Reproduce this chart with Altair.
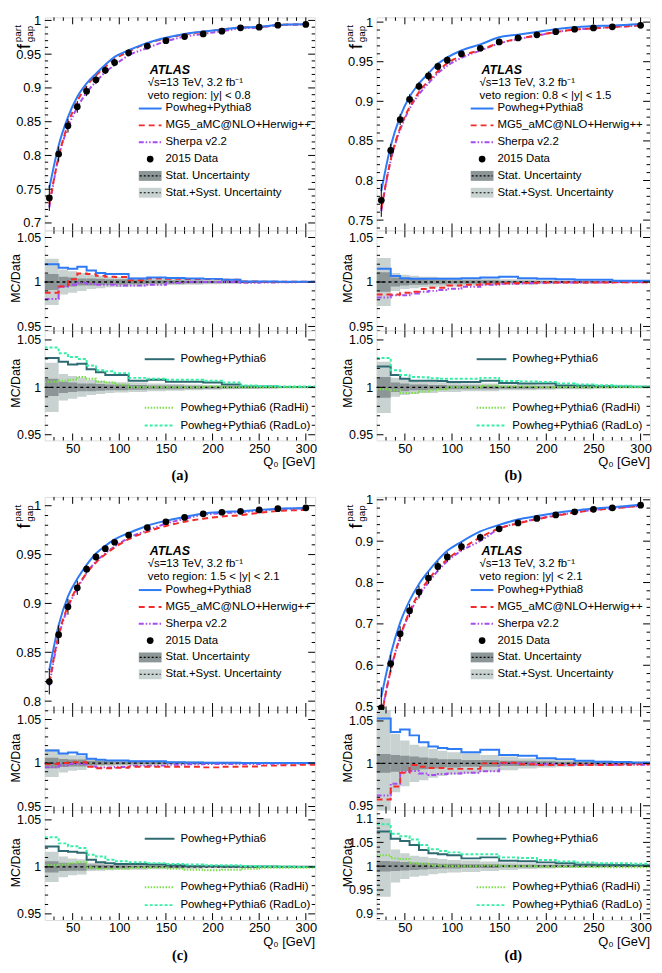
import altair as alt
import pandas as pd

FONT = "Liberation Sans"
SERIF = "Liberation Serif"

# ---------------- data ----------------
Q0 = [25, 35, 45, 55, 65, 75, 85, 95, 110, 130, 150, 170, 190, 210, 230, 250, 270, 300]
EDGES = [20, 35, 45, 55, 65, 75, 85, 95, 110, 130, 150, 170, 190, 210, 230, 250, 270, 290, 310]
X_MAJOR = [50, 100, 150, 200, 250, 300]
X_MINOR = [30, 40, 60, 70, 80, 90, 110, 120, 130, 140, 160, 170, 180, 190,
           210, 220, 230, 240, 260, 270, 280, 290]

# (a) |y| < 0.8
A_DATA = [0.737, 0.802, 0.844, 0.872, 0.895, 0.912, 0.926, 0.9375, 0.952, 0.962, 0.970, 0.976, 0.980, 0.984, 0.989, 0.990, 0.993, 0.994]
A_PP8 = [1.020, 1.016, 1.015, 1.017, 1.013, 1.010, 1.009, 1.009, 1.004, 1.005, 1.0045, 1.004, 1.0035, 1.0025, 1.0005, 1.0005, 1.0003, 1.0002]
A_MG5 = [0.988, 0.995, 1.003, 1.0095, 1.009, 1.007, 1.006, 1.0055, 1.002, 1.004, 1.0037, 1.0033, 1.0033, 1.0025, 1.0005, 1.0003, 1.0002, 1.0002]
A_SHERPA = [0.981, 0.995, 0.997, 0.999, 0.998, 0.997, 0.997, 0.996, 0.996, 0.997, 0.999, 1.000, 1.000, 1.000, 0.999, 0.9995, 0.9998, 1.000]
A_PP6 = [1.031, 1.027, 1.024, 1.025, 1.019, 1.016, 1.013, 1.013, 1.007, 1.008, 1.006, 1.006, 1.005, 1.003, 1.001, 1.0008, 1.0005, 1.0003]
A_RADHI = [1.006, 1.007, 1.008, 1.011, 1.009, 1.006, 1.005, 1.003, 1.000, 1.000, 1.000, 1.000, 1.001, 1.000, 1.000, 1.000, 1.000, 1.000]
A_RADLO = [1.042, 1.036, 1.032, 1.030, 1.023, 1.018, 1.017, 1.015, 1.010, 1.009, 1.008, 1.008, 1.007, 1.005, 1.002, 1.0015, 1.001, 1.001]
A_STAT = [0.009, 0.006, 0.005, 0.004, 0.004, 0.0035, 0.003, 0.003, 0.0025, 0.002, 0.002, 0.0018, 0.0015, 0.0013, 0.0012, 0.001, 0.0008, 0.0008]
A_SYST = [0.026, 0.014, 0.012, 0.010, 0.008, 0.007, 0.006, 0.0055, 0.005, 0.004, 0.0035, 0.003, 0.0025, 0.002, 0.0015, 0.0012, 0.001, 0.001]

# (b) 0.8 < |y| < 1.5
B_DATA = [0.775, 0.838, 0.877, 0.9025, 0.919, 0.932, 0.944, 0.952, 0.960, 0.967, 0.975, 0.980, 0.984, 0.988, 0.991, 0.9926, 0.994, 0.996]
B_PP8 = [1.015, 1.0068, 1.0043, 1.0036, 1.0036, 1.0036, 1.0036, 1.0036, 1.0043, 1.005, 1.006, 1.0043, 1.0036, 1.0032, 1.0025, 1.0025, 1.0015, 1.0015]
B_MG5 = [0.986, 0.986, 0.988, 0.989, 0.992, 0.9935, 0.9935, 0.996, 0.997, 0.998, 0.9985, 0.999, 0.9993, 0.9993, 0.9995, 0.9995, 0.9997, 0.9997]
B_SHERPA = [0.9826, 0.985, 0.985, 0.987, 0.989, 0.990, 0.991, 0.9925, 0.9946, 0.997, 0.998, 0.9985, 0.999, 0.9993, 0.9995, 0.9995, 0.9997, 0.9997]
B_PP6 = [1.022, 1.013, 1.009, 1.007, 1.007, 1.007, 1.0067, 1.0057, 1.0057, 1.007, 1.0047, 1.004, 1.004, 1.002, 1.0017, 1.0013, 1.001, 1.0007]
B_RADHI = [0.998, 0.997, 0.994, 0.994, 0.9957, 0.997, 0.998, 1.000, 1.000, 1.0017, 1.001, 1.001, 1.000, 1.000, 1.000, 1.000, 1.000, 1.000]
B_RADLO = [1.031, 1.018, 1.013, 1.011, 1.0107, 1.0097, 1.009, 1.009, 1.009, 1.010, 1.0067, 1.0063, 1.0057, 1.004, 1.003, 1.0023, 1.0017, 1.001]
B_STAT = [0.011, 0.005, 0.004, 0.003, 0.003, 0.0025, 0.0025, 0.002, 0.002, 0.002, 0.0015, 0.0015, 0.0012, 0.001, 0.001, 0.0008, 0.0008, 0.0007]
B_SYST = [0.027, 0.010, 0.008, 0.007, 0.006, 0.006, 0.005, 0.005, 0.004, 0.004, 0.003, 0.003, 0.0025, 0.002, 0.002, 0.0015, 0.001, 0.001]

# (c) 1.5 < |y| < 2.1
C_DATA = [0.820, 0.868, 0.8965, 0.916, 0.935, 0.9476, 0.956, 0.9626, 0.970, 0.9776, 0.9836, 0.988, 0.9917, 0.9933, 0.9943, 0.9957, 0.997, 0.9977]
C_PP8 = [1.0145, 1.011, 1.012, 1.010, 1.0048, 1.0037, 1.003, 1.003, 1.002, 1.002, 1.001, 1.0005, 1.0003, 1.0002, 1.0001, 1.0001, 1.0, 1.0]
C_MG5 = [0.999, 1.000, 1.001, 1.001, 0.9956, 0.994, 0.994, 0.9945, 0.9956, 0.9956, 0.9956, 0.9956, 0.995, 0.9956, 0.996, 0.997, 0.9975, 0.998]
C_SHERPA = [0.995, 0.9975, 0.999, 0.999, 0.996, 0.995, 0.995, 0.9955, 0.997, 0.997, 0.998, 0.9985, 0.999, 0.999, 0.999, 0.9992, 0.9995, 0.9995]
C_PP6 = [1.0217, 1.017, 1.016, 1.015, 1.0077, 1.005, 1.004, 1.003, 1.003, 1.0025, 1.0017, 1.0008, 1.0008, 1.0005, 1.0003, 1.0003, 1.0002, 1.0002]
C_RADHI = [1.0017, 1.0025, 1.004, 1.005, 0.999, 0.998, 0.998, 0.998, 0.999, 0.999, 0.998, 0.997, 0.9965, 0.997, 0.998, 0.999, 0.999, 0.999]
C_RADLO = [1.0315, 1.025, 1.022, 1.020, 1.013, 1.011, 1.0077, 1.006, 1.005, 1.004, 1.003, 1.0025, 1.0017, 1.0017, 1.001, 1.0007, 1.0003, 1.0]
C_STAT = [0.006, 0.0045, 0.004, 0.004, 0.0025, 0.0022, 0.002, 0.0018, 0.0015, 0.0013, 0.0012, 0.001, 0.001, 0.0008, 0.0008, 0.0007, 0.0006, 0.0006]
C_SYST = [0.016, 0.011, 0.009, 0.008, 0.0045, 0.004, 0.0035, 0.003, 0.003, 0.0025, 0.002, 0.002, 0.0015, 0.0015, 0.001, 0.001, 0.001, 0.001]

# (d) |y| < 2.1
D_DATA = [0.497, 0.604, 0.676, 0.732, 0.777, 0.811, 0.839, 0.862, 0.887, 0.909, 0.930, 0.944, 0.955, 0.9635, 0.971, 0.977, 0.9806, 0.987]
D_PP8 = [1.053, 1.037, 1.040, 1.033, 1.025, 1.020, 1.018, 1.017, 1.013, 1.016, 1.010, 1.009, 1.006, 1.005, 1.003, 1.002, 1.0015, 1.001]
D_MG5 = [0.9575, 0.9727, 0.989, 0.998, 0.996, 0.9946, 0.9946, 0.9935, 0.9935, 1.000, 1.0007, 0.999, 0.998, 0.998, 0.998, 0.998, 0.9985, 0.999]
D_SHERPA = [0.962, 0.976, 0.990, 0.991, 0.988, 0.9863, 0.9874, 0.988, 0.9888, 0.9906, 1.000, 1.000, 0.999, 0.9985, 0.9985, 0.9985, 0.9985, 0.9985]
D_PP6 = [1.073, 1.0575, 1.053, 1.0445, 1.034, 1.0274, 1.025, 1.023, 1.0164, 1.0185, 1.0116, 1.0103, 1.008, 1.006, 1.0034, 1.003, 1.0025, 1.002]
D_RADHI = [1.023, 1.0164, 1.015, 1.006, 1.005, 1.0014, 1.0014, 1.000, 1.000, 1.0014, 1.000, 1.000, 0.999, 0.999, 0.9985, 0.998, 0.998, 0.998]
D_RADLO = [1.088, 1.068, 1.063, 1.056, 1.0445, 1.0356, 1.032, 1.029, 1.025, 1.025, 1.0185, 1.017, 1.013, 1.010, 1.008, 1.006, 1.006, 1.005]
D_STAT = [0.011, 0.010, 0.009, 0.008, 0.007, 0.006, 0.005, 0.005, 0.004, 0.004, 0.003, 0.003, 0.0025, 0.002, 0.002, 0.0015, 0.0015, 0.001]
D_SYST_UP = [0.100, 0.035, 0.027, 0.022, 0.020, 0.017, 0.015, 0.013, 0.012, 0.010, 0.008, 0.006, 0.005, 0.004, 0.003, 0.003, 0.002, 0.002]
D_SYST_DN = [0.064, 0.034, 0.027, 0.022, 0.020, 0.017, 0.015, 0.013, 0.012, 0.010, 0.008, 0.006, 0.005, 0.004, 0.003, 0.003, 0.002, 0.002]

LEGEND_MAIN = ["Powheg+Pythia8", "MG5_aMC@NLO+Herwig++", "Sherpa v2.2", "2015 Data",
               "Stat. Uncertainty", "Stat.+Syst. Uncertainty"]
LEGEND_R2 = ["Powheg+Pythia6", "Powheg+Pythia6 (RadHi)", "Powheg+Pythia6 (RadLo)"]
VETO = ["veto region: |y| < 0.8", "veto region: 0.8 < |y| < 1.5",
        "veto region: 1.5 < |y| < 2.1", "veto region: |y| < 2.1"]
LABELS = ["(a)", "(b)", "(c)", "(d)"]

# ---------------- style ----------------
COL_PP8 = "#2E7BF5"
COL_MG5 = "#F52A2A"
COL_SHERPA = "#A64CF0"
COL_PP6 = "#2D6A72"
COL_RADHI = "#7BE04A"
COL_RADLO = "#36EFA6"
COL_STAT = "#8C9696"
COL_SYST = "#C8D2D0"

STYLES = {
    "pp8": {"color": COL_PP8},
    "mg5": {"color": COL_MG5, "strokeDash": [6, 4]},
    "sherpa": {"color": COL_SHERPA, "strokeDash": [5, 2, 1.5, 2, 1.5, 2]},
    "pp6": {"color": COL_PP6},
    "radhi": {"color": COL_RADHI, "strokeDash": [1.5, 1.5]},
    "radlo": {"color": COL_RADLO, "strokeDash": [3, 2]},
}

W_COL = [273, 276]
H_MAIN, H_R1, H_R2, H_SP = 215, 101, 111, 57
XS = alt.Scale(domain=[20, 310], nice=False, zero=False)
ONE = alt.Data(values=[{"k": 0}])


def minor_ticks(lo, hi, step, majors):
    out = []
    k = lo
    maj = [round(m, 3) for m in majors]
    while k <= hi:
        v = round(k / 100.0, 3)
        if v not in maj:
            out.append(v)
        k += step
    return out


def y_axis(vals, size=13):
    return alt.Axis(values=vals, format="~g", labelFont=FONT, labelFontSize=size,
                    labelColor="black", labelPadding=4, ticks=False, tickSize=0,
                    domain=False, grid=False, title=None, labelOverlap=False)


X_AXIS_LAB = alt.Axis(values=X_MAJOR, format="d", labelFont=FONT, labelFontSize=13,
                      labelColor="black", labelPadding=2, ticks=False, tickSize=0,
                      domain=False, grid=False, title=None, labelOverlap=False,
                      labelFlush=False)


def txt(s, x, y, size=11.5, align="left", baseline="middle", **kw):
    return alt.Chart(ONE).mark_text(text=s, font=kw.pop("font", FONT), fontSize=size,
                                    align=align, baseline=baseline, color="black",
                                    **kw).encode(x=alt.value(x), y=alt.value(y))


def hseg(x0, x1, y, **style):
    return alt.Chart(ONE).mark_rule(**style).encode(
        x=alt.value(x0), x2=alt.value(x1), y=alt.value(y))


def frame_ticks(w, h, xaxis, ysc, yaxis, ymaj, ymin):
    L, S = 7, 3.5
    lay = []
    for vals, ln in ((X_MAJOR, L), (X_MINOR, S)):
        df = pd.DataFrame({"t": vals})
        xe = alt.X("t:Q", scale=XS, axis=xaxis)
        lay.append(alt.Chart(df).mark_rule(color="black", strokeWidth=1).encode(
            x=xe, y=alt.value(h), y2=alt.value(h - ln)))
        lay.append(alt.Chart(df).mark_rule(color="black", strokeWidth=1).encode(
            x=xe, y=alt.value(0), y2=alt.value(ln)))
    for vals, ln in ((ymaj, L), (ymin, S)):
        df = pd.DataFrame({"t": vals})
        ye = alt.Y("t:Q", scale=ysc, axis=yaxis)
        lay.append(alt.Chart(df).mark_rule(color="black", strokeWidth=1, clip=True).encode(
            y=ye, x=alt.value(0), x2=alt.value(ln)))
        lay.append(alt.Chart(df).mark_rule(color="black", strokeWidth=1, clip=True).encode(
            y=ye, x=alt.value(w - ln), x2=alt.value(w)))
    return lay


def main_chart(p, w):
    h = H_MAIN
    ysc = alt.Scale(domain=p["main_dom"], nice=False, zero=False)
    yax = y_axis(p["main_major"])
    lay = []
    for key in ["sherpa", "mg5", "pp8"]:
        df = pd.DataFrame({"q": Q0, "v": [d * r for d, r in zip(p["data"], p[key])]})
        lay.append(alt.Chart(df).mark_line(clip=True, interpolate="monotone", strokeWidth=2,
                                           **STYLES[key]).encode(
            x=alt.X("q:Q", scale=XS, axis=None), y=alt.Y("v:Q", scale=ysc, axis=yax)))
    err = pd.DataFrame({"q": Q0,
                        "lo": [d * (1 - e) for d, e in zip(p["data"], p["dn"])],
                        "hi": [d * (1 + e) for d, e in zip(p["data"], p["up"])]})
    lay.append(alt.Chart(err).mark_rule(color="black", strokeWidth=1, clip=True).encode(
        x=alt.X("q:Q", scale=XS, axis=None), y=alt.Y("lo:Q", scale=ysc, axis=yax),
        y2=alt.Y2("hi:Q")))
    pts = pd.DataFrame({"q": Q0, "v": p["data"]})
    lay.append(alt.Chart(pts).mark_circle(size=46, color="black", opacity=1).encode(
        x=alt.X("q:Q", scale=XS, axis=None), y=alt.Y("v:Q", scale=ysc, axis=yax)))
    lay += frame_ticks(w, h, None, ysc, yax, p["main_major"], p["main_minor"])

    # legend
    lx0, lx1, tx = 95, 118, 122
    dy = p["leg_dy"]
    rows = [r + dy for r in (92, 109, 126, 143, 160, 177)]
    lay.append(txt("ATLAS", 106, 53 + dy, size=12.5, fontWeight="bold", fontStyle="italic"))
    lay.append(txt("\u221as=13 TeV, 3.2 fb\u207b\u00b9", 104, 66 + dy))
    lay.append(txt(p["veto"], 104, 79 + dy))
    for i, key in enumerate(["pp8", "mg5", "sherpa"]):
        lay.append(hseg(lx0, lx1, rows[i], strokeWidth=2, **STYLES[key]))
    lay.append(alt.Chart(ONE).mark_circle(size=46, color="black", opacity=1).encode(
        x=alt.value((lx0 + lx1) / 2), y=alt.value(rows[3])))
    for i, col in ((4, COL_STAT), (5, COL_SYST)):
        lay.append(alt.Chart(ONE).mark_rect(color=col).encode(
            x=alt.value(lx0), x2=alt.value(lx1), y=alt.value(rows[i] - 5),
            y2=alt.value(rows[i] + 5)))
        lay.append(hseg(lx0 + 1, lx1 - 1, rows[i], color="black", strokeWidth=1.2,
                        strokeDash=[2, 2]))
    for i, s in enumerate(LEGEND_MAIN):
        lay.append(txt(s, tx, rows[i]))
    # y title  f^{part}_{gap}
    lay.append(txt("f", -15, 32, size=18, angle=270, baseline="alphabetic"))
    lay.append(txt("part", -24, 25, size=10, angle=270, baseline="alphabetic"))
    lay.append(txt("gap", -12, 25, size=10, angle=270, baseline="alphabetic"))
    return alt.layer(*lay).properties(width=w, height=h)


def ratio_chart(p, w, h, dom, ymaj, ymin, keys, bottom, legend):
    ysc = alt.Scale(domain=dom, nice=False, zero=False)
    yax = y_axis(ymaj, 12.5)
    xax = X_AXIS_LAB if bottom else None
    lay = []
    for err_up, err_dn, col in ((p["up"], p["dn"], COL_SYST), (p["stat"], p["stat"], COL_STAT)):
        df = pd.DataFrame({"lo": EDGES[:-1], "hi": EDGES[1:],
                           "b": [1 - e for e in err_dn], "t": [1 + e for e in err_up]})
        lay.append(alt.Chart(df).mark_rect(color=col, clip=True).encode(
            x=alt.X("lo:Q", scale=XS, axis=xax), x2=alt.X2("hi:Q"),
            y=alt.Y("b:Q", scale=ysc, axis=yax), y2=alt.Y2("t:Q")))
    lay.append(alt.Chart(alt.Data(values=[{"v": 1}])).mark_rule(
        color="black", strokeWidth=1.3, strokeDash=[3, 3]).encode(
        y=alt.Y("v:Q", scale=ysc, axis=yax), x=alt.value(0), x2=alt.value(w)))
    for key in keys:
        vals = p[key]
        df = pd.DataFrame({"q": EDGES, "v": list(vals) + [vals[-1]]})
        lay.append(alt.Chart(df).mark_line(interpolate="step-after", clip=True,
                                           strokeWidth=2, **STYLES[key]).encode(
            x=alt.X("q:Q", scale=XS, axis=xax), y=alt.Y("v:Q", scale=ysc, axis=yax)))
    lay += frame_ticks(w, h, xax, ysc, yax, ymaj, ymin)
    lay.append(txt("MC/Data", -29, h * 0.48, size=12.5, angle=270, align="center"))
    if legend:
        rows = [29, 78, 96]
        for i, key in enumerate(keys):
            lay.append(hseg(101, 131, rows[i], strokeWidth=2, **STYLES[key]))
            lay.append(txt(LEGEND_R2[i], 137, rows[i]))
    if bottom:
        lay.append(txt("Q\u2080 [GeV]", w, h + 22, size=13, align="right"))
        lay.append(txt(p["label"], w / 2, h + 36, size=14.5, align="center",
                       font=SERIF, fontWeight="bold"))
    return alt.layer(*lay).properties(width=w, height=h)


R_MAJ = [0.95, 1.0, 1.05]
R_MIN = minor_ticks(94, 106, 1, R_MAJ)

PANELS = [
    dict(data=A_DATA, pp8=A_PP8, mg5=A_MG5, sherpa=A_SHERPA, pp6=A_PP6, radhi=A_RADHI,
         radlo=A_RADLO, stat=A_STAT, up=A_SYST, dn=A_SYST, veto=VETO[0], label=LABELS[0],
         main_dom=[0.689, 1.0045], main_major=[0.7, 0.75, 0.8, 0.85, 0.9, 0.95, 1.0],
         main_minor=minor_ticks(70, 100, 1, [0.7, 0.75, 0.8, 0.85, 0.9, 0.95, 1.0]),
         r1_dom=[0.9455, 1.058], r2_dom=[0.944, 1.060], r2_major=R_MAJ, r2_minor=R_MIN,
         leg_dy=0),
    dict(data=B_DATA, pp8=B_PP8, mg5=B_MG5, sherpa=B_SHERPA, pp6=B_PP6, radhi=B_RADHI,
         radlo=B_RADLO, stat=B_STAT, up=B_SYST, dn=B_SYST, veto=VETO[1], label=LABELS[1],
         main_dom=[0.737, 1.006], main_major=[0.75, 0.8, 0.85, 0.9, 0.95, 1.0],
         main_minor=minor_ticks(74, 100, 1, [0.75, 0.8, 0.85, 0.9, 0.95, 1.0]),
         r1_dom=[0.9455, 1.058], r2_dom=[0.944, 1.060], r2_major=R_MAJ, r2_minor=R_MIN,
         leg_dy=0),
    dict(data=C_DATA, pp8=C_PP8, mg5=C_MG5, sherpa=C_SHERPA, pp6=C_PP6, radhi=C_RADHI,
         radlo=C_RADLO, stat=C_STAT, up=C_SYST, dn=C_SYST, veto=VETO[2], label=LABELS[2],
         main_dom=[0.791, 1.009], main_major=[0.8, 0.85, 0.9, 0.95, 1.0],
         main_minor=minor_ticks(80, 100, 1, [0.8, 0.85, 0.9, 0.95, 1.0]),
         r1_dom=[0.946, 1.061], r2_dom=[0.9435, 1.0605], r2_major=R_MAJ, r2_minor=R_MIN,
         leg_dy=2),
    dict(data=D_DATA, pp8=D_PP8, mg5=D_MG5, sherpa=D_SHERPA, pp6=D_PP6, radhi=D_RADHI,
         radlo=D_RADLO, stat=D_STAT, up=D_SYST_UP, dn=D_SYST_DN, veto=VETO[3], label=LABELS[3],
         main_dom=[0.492, 1.007], main_major=[0.5, 0.6, 0.7, 0.8, 0.9, 1.0],
         main_minor=minor_ticks(50, 100, 2, [0.5, 0.6, 0.7, 0.8, 0.9, 1.0]),
         r1_dom=[0.945, 1.063], r2_dom=[0.887, 1.118],
         r2_major=[0.9, 0.95, 1.0, 1.05, 1.1],
         r2_minor=minor_ticks(89, 111, 1, [0.9, 0.95, 1.0, 1.05, 1.1]),
         leg_dy=2),
]


def spacer(w):
    return alt.Chart(ONE).mark_point(opacity=0).encode(
        x=alt.value(0), y=alt.value(0)).properties(
        width=w, height=H_SP, view=alt.ViewBackground(stroke="transparent"))


cells = []
for row_pair in ((0, 1), (2, 3)):
    mains, r1s, r2s = [], [], []
    for col, idx in enumerate(row_pair):
        p = PANELS[idx]
        w = W_COL[col]
        mains.append(main_chart(p, w))
        r1s.append(ratio_chart(p, w, H_R1, p["r1_dom"], R_MAJ, R_MIN,
                               ["sherpa", "mg5", "pp8"], False, False))
        r2s.append(ratio_chart(p, w, H_R2, p["r2_dom"], p["r2_major"], p["r2_minor"],
                               ["pp6", "radhi", "radlo"], True, True))
    cells += mains + r1s + r2s
    if row_pair == (0, 1):
        cells += [spacer(W_COL[0]), spacer(W_COL[1])]

chart = alt.concat(*cells, columns=2, spacing={"row": 0, "column": 62},
                   bounds="flush").properties(
    padding={"left": 1, "top": 1, "right": 2, "bottom": 1}
).configure_view(stroke="black", strokeWidth=1.6).configure(background="white")

chart.save("out.html", embed_options={"renderer": "svg", "actions": False})
